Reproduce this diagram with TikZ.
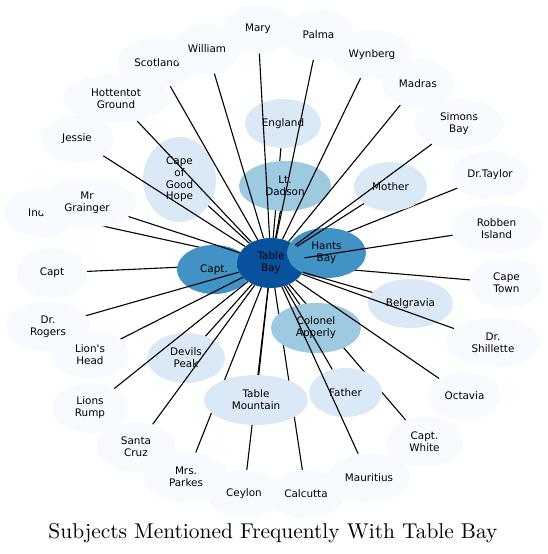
\documentclass[tikz,border=0pt]{standalone}
\usepackage{fontspec}
\usepackage{xcolor}
\usepackage{tikz}
\usetikzlibrary{shapes.geometric}
\newfontfamily\labelfont{DejaVu Sans}
\newfontfamily\titlefont{lmroman10-regular}[Extension=.otf]
\definecolor{blueA}{HTML}{F7FBFF}
\definecolor{blueB}{HTML}{DBE9F6}
\definecolor{blueC}{HTML}{9ECAE1}
\definecolor{blueD}{HTML}{4292C6}
\definecolor{blueE}{HTML}{08519C}

\begin{document}
\begin{tikzpicture}[x=1pt, y=-1pt,
    bubble/.style={ellipse, inner sep=0pt, align=center,
        font=\labelfont\fontsize{10.4}{11.8}\selectfont},
    sz/.style n args={2}{minimum width=#1pt, minimum height=#2pt},
    rare/.style={bubble, fill=blueA},
    few/.style={bubble, fill=blueB},
    some/.style={bubble, fill=blueC},
    many/.style={bubble, fill=blueD},
    hub/.style={bubble, fill=blueE},
    link/.style={line width=1.1pt}]

    \useasboundingbox (0,0) rectangle (547,554);

    % Rims of the two middle bubbles, so links can start there
    \node[bubble, sz={68}{50}] (tbrim) at (271,263) {};
    \node[bubble, sz={79}{50}] (hantsrim) at (326.5,253) {};

    % Outer ring, left side
    \node[rare, sz={72}{49}] (india) at (41,212.5) {India};
    \draw[link] (tbrim) -- (india);
    \node[rare, sz={98}{50}] (grainger) at (87,203) {Mr\\Grainger};
    \node[rare, sz={80}{49}] (scotland) at (157,63) {Scotland};
    \node[rare, sz={68}{50}] (william) at (207,49) {William};
    \node[rare, sz={70}{49}] (mary) at (258,29) {Mary};
    \node[rare, sz={106}{49}] (hottentot) at (116,98.5) {Hottentot\\Ground};
    \node[rare, sz={73}{48}] (jessie) at (77,139) {Jessie};
    \node[rare, sz={70}{50}] (capt) at (52,273) {Capt};
    \node[rare, sz={84}{49}] (rogers) at (48,326.5) {Dr.\\Rogers};
    \node[rare, sz={78}{49}] (lionshead) at (90,354.5) {Lion's\\Head};
    \node[rare, sz={76}{50}] (lionsrump) at (90,408) {Lions\\Rump};
    \node[rare, sz={78}{50}] (santacruz) at (136,447) {Santa\\Cruz};
    \node[rare, sz={84}{50}] (parkes) at (186,477) {Mrs.\\Parkes};
    \node[rare, sz={74}{48}] (ceylon) at (244,494) {Ceylon};

    % Outer ring, right side
    \node[rare, sz={71}{50}] (palma) at (318.5,35) {Palma};
    \node[rare, sz={81}{49}] (wynberg) at (372,54.5) {Wynberg};
    \node[rare, sz={72}{49}] (madras) at (418,83.5) {Madras};
    \node[rare, sz={90}{50}] (simons) at (459,124) {Simons\\Bay};
    \node[rare, sz={78}{48}] (taylor) at (490,175) {Dr.Taylor};
    \node[rare, sz={91}{49}] (robben) at (496.5,228.5) {Robben\\Island};
    \node[rare, sz={73}{50}] (capetown) at (506.5,283) {Cape\\Town};
    \node[rare, sz={94}{49}] (shillette) at (493,342.5) {Dr.\\Shillette};
    \node[rare, sz={73}{48}] (octavia) at (464.5,396) {Octavia};
    \node[rare, sz={77}{50}] (white) at (424.5,442) {Capt.\\White};
    \node[rare, sz={78}{48}] (calcutta) at (306,494) {Calcutta};
    \node[rare, sz={82}{49}] (mauritius) at (369,477.5) {Mauritius};

    % Links that go under the inner bubbles
    \foreach \n in {ceylon, parkes, calcutta, white, capt, capetown, taylor}
        \draw[link] (tbrim) -- (\n);

    % Inner bubbles
    \node[few, sz={76}{49}] (england) at (283,123.5) {England};
    \draw[link] (tbrim) -- (england);
    \node[some, sz={92}{50}] (dadson) at (285,186) {Lt.\\Dadson};
    \node[few, sz={104}{50}] (mountain) at (256,400) {Table\\Mountain};
    \node[some, sz={90}{50}] (apperly) at (316,328) {Colonel\\Apperly};
    \node[few, sz={73}{49}] (father) at (345.5,392.5) {Father};
    \node[few, sz={85}{49}] (belgravia) at (410.5,303.5) {Belgravia};
    \node[few, sz={78}{50}] (devils) at (186,358) {Devils\\Peak};
    \node[few, sz={73}{85}] (goodhope) at (179.5,179.5) {Cape\\of\\Good\\Hope};
    \node[few, sz={73}{49}] (mother) at (390.5,186.5) {Mother};
    \node[many, sz={74}{49}] (captdot) at (214,269.5) {Capt.};
    \draw[link] (tbrim) -- (captdot);
    \node[hub, sz={68}{50}] (tb) at (271,263) {Table\\Bay};
    \draw[link] (tbrim) -- (hantsrim);
    \node[many, sz={79}{50}] (hants) at (326.5,253) {Hants\\Bay};

    % Links drawn over everything
    \foreach \n in {mary, palma, wynberg, madras, simons, mother, robben,
        belgravia, shillette, octavia, father, mauritius, apperly, mountain,
        devils, santacruz, lionsrump, lionshead, rogers, grainger, jessie,
        goodhope, hottentot, scotland, william, dadson}
        \draw[link] (tbrim) -- (\n);

    % Title
    \node[anchor=base] (title) at (273,538) {\titlefont\fontsize{21.4}{25}\selectfont Subjects Mentioned Frequently With Table Bay};

\end{tikzpicture}
\end{document}
